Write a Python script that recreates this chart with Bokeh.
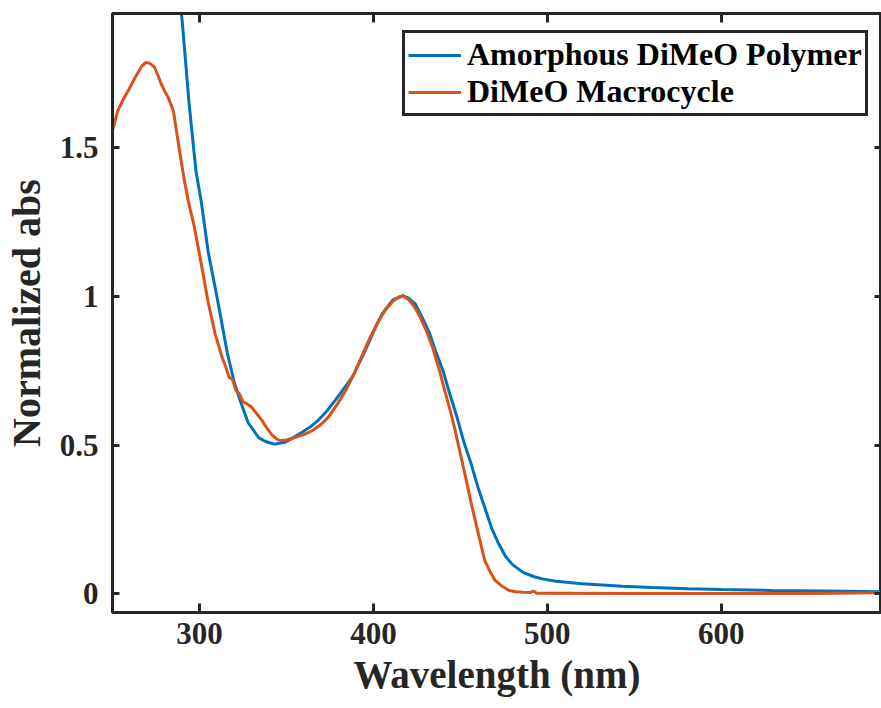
from bokeh.plotting import figure
from bokeh.models import Range1d, LinearAxis, FixedTicker, Legend
from bokeh.embed import file_html
from bokeh.resources import INLINE

# Amorphous DiMeO Polymer
wl_poly = [285, 288, 290, 294, 298, 301, 305, 310, 316, 320, 324, 328, 334, 338, 343,
           349, 354, 359, 364, 368, 373, 378, 383, 388, 393, 397, 401, 405, 411, 417,
           420, 424, 428, 432, 436, 440, 444, 448, 452, 456, 460, 464, 468, 472, 476,
           480, 486, 492, 497, 505, 520, 543, 560, 581, 600, 629, 660, 693]
abs_poly = [2.25, 2.03, 1.93, 1.65, 1.42, 1.32, 1.15, 1.00, 0.81, 0.71, 0.64, 0.575, 0.525, 0.512, 0.503,
            0.509, 0.525, 0.543, 0.562, 0.582, 0.613, 0.650, 0.690, 0.730, 0.790, 0.840, 0.893, 0.941, 0.987, 1.002,
            0.995, 0.975, 0.929, 0.880, 0.812, 0.750, 0.670, 0.595, 0.510, 0.440, 0.360, 0.290, 0.220, 0.168, 0.125,
            0.098, 0.072, 0.058, 0.050, 0.042, 0.034, 0.025, 0.021, 0.017, 0.014, 0.011, 0.009, 0.007]

# DiMeO Macrocycle
wl_macro = [250, 253, 256, 259, 263, 267, 269, 271, 274, 276, 278, 280, 282, 285, 288,
            291, 293.5, 297, 301, 305, 309, 313, 315, 317, 319, 321, 323, 325, 327, 330,
            333, 336, 339, 342, 345, 347, 350, 355, 360, 365, 370, 374, 379, 384, 389,
            393, 398, 403, 407, 411, 414, 417, 420, 423, 426, 430, 434, 438, 441, 444,
            447, 450, 453, 456, 459, 462, 464, 467, 470, 474, 478, 482, 486, 490, 492,
            494, 500, 550, 600, 650, 690, 693]
abs_macro = [1.557, 1.624, 1.66, 1.691, 1.736, 1.775, 1.786, 1.785, 1.772, 1.745, 1.714, 1.69, 1.669, 1.624, 1.51,
             1.40, 1.322, 1.235, 1.11, 0.98, 0.874, 0.795, 0.765, 0.728, 0.72, 0.683, 0.672, 0.645, 0.64, 0.627,
             0.605, 0.582, 0.555, 0.532, 0.518, 0.515, 0.517, 0.526, 0.535, 0.549, 0.570, 0.593, 0.635, 0.683, 0.740,
             0.795, 0.860, 0.918, 0.955, 0.982, 0.996, 1.002, 0.99, 0.97, 0.941, 0.89, 0.829, 0.75, 0.683, 0.62,
             0.549, 0.47, 0.392, 0.31, 0.235, 0.16, 0.112, 0.075, 0.045, 0.025, 0.011, 0.007, 0.005, 0.004, 0.009,
             0.002, 0.002, 0.001, 0.001, 0.001, 0.003, 0.005]

x_ticks = [300, 400, 500, 600]
y_ticks = [0, 0.5, 1, 1.5]
y_tick_labels = ["0", "0.5", "1", "1.5"]

FONT = "Liberation Serif"
DARK = "#262626"

p = figure(width=881, height=708, x_range=Range1d(250, 692.1), y_range=Range1d(-0.063, 1.951),
           output_backend="svg", toolbar_location=None,
           min_border_left=111, min_border_right=0, min_border_top=13, min_border_bottom=96)
p.background_fill_color = "white"
p.border_fill_color = "white"
p.xgrid.visible = False
p.ygrid.visible = False
p.outline_line_color = DARK
p.outline_line_width = 3
p.outline_line_alpha = 1.0

r1 = p.line(wl_poly, abs_poly, line_color="#0072BD", line_width=3)
r2 = p.line(wl_macro, abs_macro, line_color="#D95319", line_width=3)

xa = p.xaxis[0]
ya = p.yaxis[0]
xa.ticker = FixedTicker(ticks=x_ticks)
ya.ticker = FixedTicker(ticks=y_ticks)
ya.major_label_overrides = {t: l for t, l in zip(y_ticks, y_tick_labels)}
xa.axis_label = "Wavelength (nm)"
ya.axis_label = "Normalized abs"
for ax, tin in ((xa, 9), (ya, 7)):
    ax.axis_line_color = DARK
    ax.axis_line_width = 3
    ax.major_tick_in = tin
    ax.major_tick_out = 0
    ax.major_tick_line_width = 3
    ax.major_tick_line_color = DARK
    ax.minor_tick_line_color = None
    ax.major_label_text_font = FONT
    ax.major_label_text_font_style = "bold"
    ax.major_label_text_font_size = "31px"
    ax.major_label_text_color = DARK
    ax.axis_label_text_font = FONT
    ax.axis_label_text_font_style = "bold"
    ax.axis_label_text_color = DARK
xa.axis_label_text_font_size = "39px"
ya.axis_label_text_font_size = "40px"
xa.major_label_standoff = 10
xa.axis_label_standoff = 6
ya.major_label_standoff = 14
ya.axis_label_standoff = 8

top = LinearAxis(ticker=FixedTicker(ticks=x_ticks))
top.major_label_overrides = {t: "" for t in x_ticks}
right = LinearAxis(ticker=FixedTicker(ticks=y_ticks))
right.major_label_overrides = {t: "" for t in y_ticks}
for ax, tin in ((top, 9), (right, 7)):
    ax.axis_line_color = DARK
    ax.axis_line_width = 3
    ax.major_tick_in = tin
    ax.major_tick_out = 0
    ax.major_tick_line_width = 3
    ax.major_tick_line_color = DARK
    ax.minor_tick_line_color = None
    ax.major_label_text_font_size = "0px"
    ax.major_label_standoff = 0
    ax.axis_label_standoff = 0
p.add_layout(top, "above")
p.add_layout(right, "right")

legend = Legend(items=[("Amorphous DiMeO Polymer", [r1]), ("DiMeO Macrocycle", [r2])],
                location=(290, 496))
legend.label_text_font = FONT
legend.label_text_font_style = "bold"
legend.label_text_font_size = "32px"
legend.label_text_color = "black"
legend.glyph_width = 53
legend.glyph_height = 30
legend.label_height = 30
legend.label_standoff = 6
legend.spacing = 0
legend.padding = 3
legend.border_line_color = DARK
legend.border_line_width = 3
legend.border_line_alpha = 1.0
legend.background_fill_color = "white"
legend.background_fill_alpha = 1.0
p.add_layout(legend, "center")

open("out.html", "w").write(file_html(p, INLINE))
